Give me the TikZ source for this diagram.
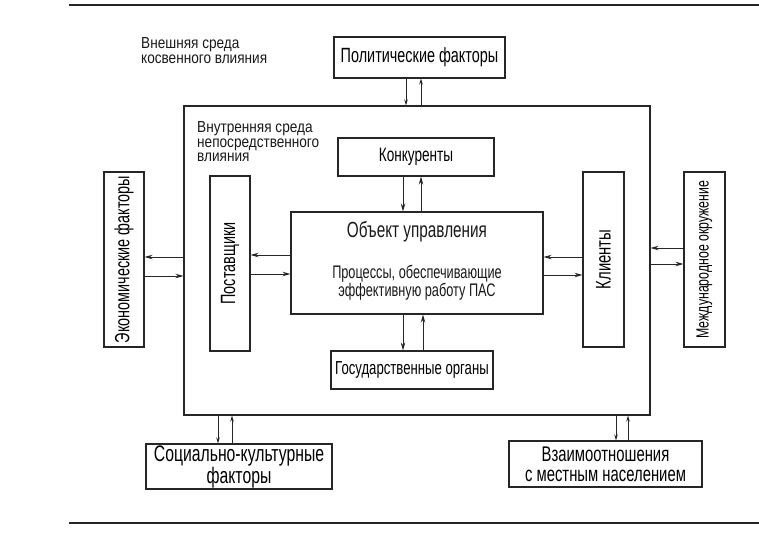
\documentclass[tikz,border=0pt]{standalone}
\usepackage{fontspec}
\usepackage{graphicx}
\setmainfont[FakeStretch=0.7]{Liberation Sans}
\newfontfamily\notefont[FakeStretch=0.85]{Liberation Sans}
\usetikzlibrary{arrows.meta}

\begin{document}
\begin{tikzpicture}[x=1pt, y=-1pt,
  box/.style={draw=\LINECOL, line width=1.1pt, inner sep=0pt, align=center},
  fs/.style 2 args={font=\fontsize{#1}{#2}\selectfont},
  note/.style={anchor=north west, align=left, inner sep=0pt, text=\TEXTCOL,
    font=\notefont\fontsize{16}{14.5}\selectfont},
  link/.style={draw=\LINECOL, line width=0.9pt, -{Stealth[length=8pt, width=4.5pt]}},
  slink/.style={draw=\LINECOL, line width=0.8pt, -{Stealth[length=6pt, width=3.5pt]}}]

\newcommand\LINECOL{black!85}
\newcommand\TEXTCOL{black!90}

\useasboundingbox (0,0) rectangle (759,552);

%% page rules
\coordinate (topl) at (69,5);
\coordinate (topr) at (759,5);
\coordinate (botl) at (69,523);
\coordinate (botr) at (759,523);
\draw[\LINECOL, line width=1.2pt] (topl) -- (topr);
\draw[\LINECOL, line width=1.2pt] (botl) -- (botr);

%% outer environment
\node[note] (outlabel) at (141,37.5)
{Внешняя среда\\косвенного влияния};
\node[box, fs={20.6}{22}, minimum width=171, minimum height=41] (polit) at (419.5,57.5)
{Политические факторы};
\node[box, fs={20.6}{22}, minimum width=40, minimum height=175] (ekon) at (124,259.5)
{\rotatebox{90}{Экономические факторы}};
\node[box, fs={17.6}{20}, minimum width=41, minimum height=175] (mezhd) at (704.5,259.5)
{\rotatebox{90}{Международное окружение}};
\node[box, fs={22.5}{20}, minimum width=186, minimum height=45] (social) at (239,466.5)
{Социально-культурные\\факторы};
\node[box, fs={21.2}{20}, minimum width=193, minimum height=46] (vzaim) at (605.5,464)
{Взаимоотношения\\с местным населением};

%% inner environment
\node[box, minimum width=466, minimum height=309] (outer) at (417,260.5) {};
\node[note] (inlabel) at (197,121.5)
{Внутренняя среда\\непосредственного\\влияния};

\node[box, fs={19.4}{22}, minimum width=156, minimum height=38] (konk) at (416,157)
{Конкуренты};
\node[box, fs={20.6}{22}, minimum width=40, minimum height=175] (post) at (230,263.5)
{\rotatebox{90}{Поставщики}};
\node[box, fs={21.2}{22}, minimum width=41, minimum height=175] (klient) at (603.5,259.5)
{\rotatebox{90}{Клиенты}};
\node[box, fs={18.8}{20}, minimum width=162, minimum height=38] (gos) at (412,370)
{Государственные органы};

%% object of management
\node[box, minimum width=252, minimum height=102] (obj) at (417,263) {};
\node[anchor=base, inner sep=0pt, text=\TEXTCOL, fs={21.9}{22}] (objtitle) at (417,237)
{Объект управления};
\node[anchor=north, inner sep=0pt, align=center, text=\TEXTCOL, fs={18.2}{16}] (objtext) at (417,264.5)
{Процессы, обеспечивающие\\эффективную работу ПАС};

%% political
\draw[slink] ([xshift=-13.5pt]polit.south) -- ([xshift=-13.5pt]polit.south |- outer.north);
\draw[slink] ([xshift=1.5pt]polit.south |- outer.north) -- ([xshift=1.5pt]polit.south);

%% competitors and state bodies
\draw[link] ([xshift=-13pt]konk.south) -- ([xshift=-13pt]konk.south |- obj.north);
\draw[link] ([xshift=5pt]konk.south |- obj.north) -- ([xshift=5pt]konk.south);
\draw[link] ([xshift=-14pt]obj.south) -- ([xshift=-14pt]obj.south |- gos.north);
\draw[link] ([xshift=6pt]obj.south |- gos.north) -- ([xshift=6pt]obj.south);

%% suppliers and clients
\draw[link] ([yshift=8pt]obj.west) -- ([yshift=8pt]obj.west -| post.east);
\draw[link] ([yshift=-11pt]obj.west -| post.east) -- ([yshift=-11pt]obj.west);
\draw[link] ([yshift=6pt]obj.east -| klient.west) -- ([yshift=6pt]obj.east);
\draw[link] ([yshift=-12pt]obj.east) -- ([yshift=-12pt]obj.east -| klient.west);

%% economic and international
\draw[link] ([yshift=2.5pt]ekon.east -| outer.west) -- ([yshift=2.5pt]ekon.east);
\draw[link] ([yshift=-16.5pt]ekon.east) -- ([yshift=-16.5pt]ekon.east -| outer.west);
\draw[link] ([yshift=11.5pt]mezhd.west) -- ([yshift=11.5pt]mezhd.west -| outer.east);
\draw[link] ([yshift=-4.5pt]mezhd.west -| outer.east) -- ([yshift=-4.5pt]mezhd.west);

%% social and local population
\draw[slink] ([xshift=-21pt]social.north |- outer.south) -- ([xshift=-21pt]social.north);
\draw[slink] ([xshift=-7pt]social.north) -- ([xshift=-7pt]social.north |- outer.south);
\draw[slink] ([xshift=10.5pt]vzaim.north |- outer.south) -- ([xshift=10.5pt]vzaim.north);
\draw[slink] ([xshift=22.5pt]vzaim.north) -- ([xshift=22.5pt]vzaim.north |- outer.south);
\end{tikzpicture}
\end{document}
